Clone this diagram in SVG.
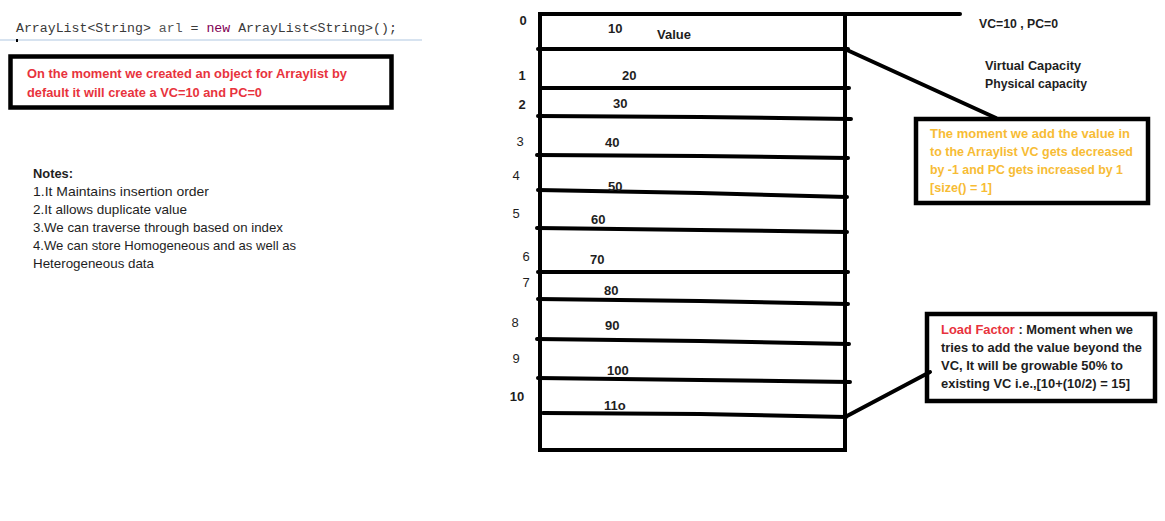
<svg xmlns="http://www.w3.org/2000/svg" width="1165" height="521" viewBox="0 0 1165 521">
<style>
.b{font-family:"Liberation Sans",Arial,sans-serif;font-weight:bold;font-size:13px;fill:#1e1e1e}
.r{font-family:"Liberation Sans",Arial,sans-serif;font-size:13px;fill:#1e1e1e}
.idx{font-family:"Liberation Sans",Arial,sans-serif;font-size:13px;fill:#1e1e1e}
.code{font-family:"Liberation Mono",monospace;font-size:13.23px;fill:#3a3a3a}
.ink{stroke:#000;stroke-width:4;fill:none;stroke-linecap:round}
.box{stroke:#000;stroke-width:4.5;fill:#fff}
.red{fill:#e8333d}
.yel{fill:#f7bc35}
</style>
<rect width="1165" height="521" fill="#fff"/>
<g id="code">
<rect x="0" y="39" width="422" height="2" fill="#d7e3f0"/>
<rect x="16" y="39" width="2" height="3" fill="#000"/>
<text class="code" x="16" y="32">ArrayList&lt;String&gt; <tspan fill="#555">arl</tspan> = <tspan style="fill:#7f0055">new</tspan> ArrayList&lt;String&gt;();</text>
</g>
<g id="intro-box">
<rect class="box" x="10.5" y="56.5" width="381" height="51"/>
<text class="b red" x="27" y="78" textLength="320" lengthAdjust="spacingAndGlyphs">On the moment we created an object for Arraylist by</text>
<text class="b red" x="27" y="97" textLength="235" lengthAdjust="spacingAndGlyphs">default it will create a VC=10 and PC=0</text>
</g>
<g id="notes">
<text class="b" x="33" y="178" textLength="40" lengthAdjust="spacingAndGlyphs">Notes:</text>
<text class="r" x="33" y="196" textLength="176" lengthAdjust="spacingAndGlyphs">1.It Maintains insertion order</text>
<text class="r" x="33" y="214" textLength="154" lengthAdjust="spacingAndGlyphs">2.It allows duplicate value</text>
<text class="r" x="33" y="232" textLength="250" lengthAdjust="spacingAndGlyphs">3.We can traverse through based on index</text>
<text class="r" x="33" y="250" textLength="263" lengthAdjust="spacingAndGlyphs">4.We can store Homogeneous and as well as</text>
<text class="r" x="33" y="268" textLength="121" lengthAdjust="spacingAndGlyphs">Heterogeneous data</text>
</g>
<g id="array">
<path class="ink" d="M540 14 V450 H845 V14 Z"/>
<path class="ink" d="M538 49 L848 49"/>
<path class="ink" d="M540 88 L849 88"/>
<path class="ink" d="M538 116 L700 117 L851 119"/>
<path class="ink" d="M537 155 L700 156 L848 158"/>
<path class="ink" d="M538 190 L700 193 L847 197"/>
<path class="ink" d="M537 228 L700 230 L847 232"/>
<path class="ink" d="M538 272 L848 272"/>
<path class="ink" d="M538 299 L700 301 L848 304"/>
<path class="ink" d="M537 339 L700 341 L849 344"/>
<path class="ink" d="M538 378 L700 380 L850 382"/>
<path class="ink" d="M543 413 L700 414 L846 417"/>
<text class="b" x="523" y="25" text-anchor="middle">0</text>
<text class="b" x="522" y="80" text-anchor="middle">1</text>
<text class="b" x="522" y="109" text-anchor="middle">2</text>
<text class="idx" x="520" y="146" text-anchor="middle">3</text>
<text class="idx" x="516" y="180" text-anchor="middle">4</text>
<text class="idx" x="516" y="218" text-anchor="middle">5</text>
<text class="idx" x="526" y="261" text-anchor="middle">6</text>
<text class="idx" x="526" y="287" text-anchor="middle">7</text>
<text class="idx" x="515" y="327" text-anchor="middle">8</text>
<text class="idx" x="516" y="363" text-anchor="middle">9</text>
<text class="b" x="517" y="401" text-anchor="middle">10</text>
<text class="b" x="608" y="33">10</text>
<text class="b" x="657" y="39">Value</text>
<text class="b" x="622" y="80">20</text>
<text class="b" x="613" y="108">30</text>
<text class="b" x="605" y="147">40</text>
<text class="b" x="608" y="191">50</text>
<text class="b" x="591" y="224">60</text>
<text class="b" x="590" y="264">70</text>
<text class="b" x="604" y="295">80</text>
<text class="b" x="605" y="330">90</text>
<text class="b" x="607" y="375">100</text>
<text class="b" x="604" y="410">11o</text>
</g>
<g id="capacity">
<text class="b" x="979" y="28" textLength="79" lengthAdjust="spacingAndGlyphs">VC=10 , PC=0</text>
<text class="b" x="985" y="70" textLength="96" lengthAdjust="spacingAndGlyphs">Virtual Capacity</text>
<text class="b" x="985" y="88" textLength="102" lengthAdjust="spacingAndGlyphs">Physical capacity</text>
</g>
<g id="add-box">
<rect class="box" x="916" y="119" width="232" height="84"/>
<text class="b yel" x="930" y="138" textLength="200" lengthAdjust="spacingAndGlyphs">The moment we add the value in</text>
<text class="b yel" x="930" y="156" textLength="203" lengthAdjust="spacingAndGlyphs">to the Arraylist VC gets decreased</text>
<text class="b yel" x="930" y="174" textLength="193" lengthAdjust="spacingAndGlyphs">by -1 and PC gets increased by 1</text>
<text class="b yel" x="930" y="192" textLength="62" lengthAdjust="spacingAndGlyphs">[size() = 1]</text>
</g>
<g id="load-box">
<rect class="box" x="927" y="314" width="228" height="87"/>
<text class="b" x="941" y="334" textLength="192" lengthAdjust="spacingAndGlyphs"><tspan class="red">Load Factor</tspan> : Moment when we</text>
<text class="b" x="941" y="352" textLength="201" lengthAdjust="spacingAndGlyphs">tries to add the value beyond the</text>
<text class="b" x="941" y="370" textLength="182" lengthAdjust="spacingAndGlyphs">VC, It will be growable 50% to</text>
<text class="b" x="941" y="388" textLength="189" lengthAdjust="spacingAndGlyphs">existing VC i.e.,[10+(10/2) = 15]</text>
</g>
<g id="connectors">
<path class="ink" d="M845 14 L960 14"/>
<path class="ink" d="M847 50 L996 118"/>
<path class="ink" d="M847 416 L930 372"/>
</g>
</svg>
